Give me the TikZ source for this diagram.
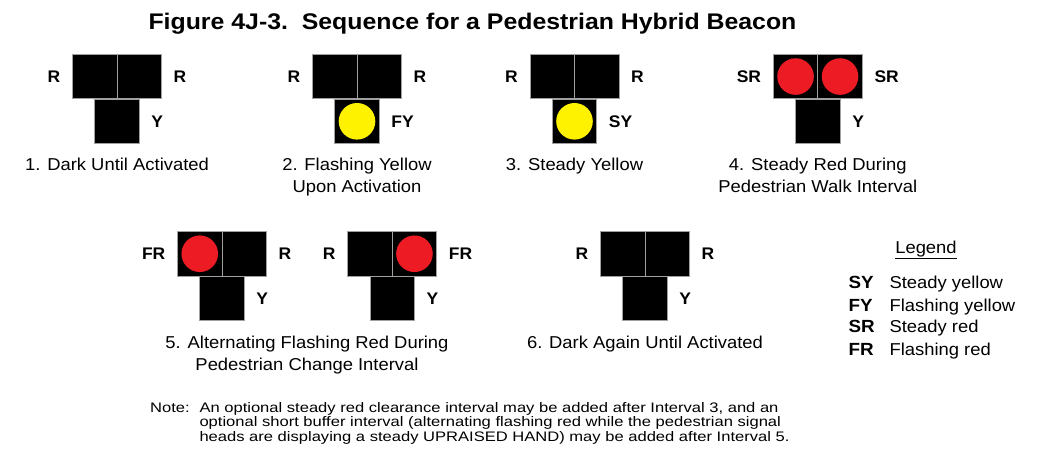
\documentclass[tikz,border=0pt]{standalone}
\usepackage{fontspec}
\setmainfont{Liberation Sans}
\newfontfamily\capfont[FakeStretch=1.07]{Liberation Sans}
\newfontfamily\titlefont[FakeStretch=1.1]{Liberation Sans}
\newfontfamily\notefont[FakeStretch=1.2]{Liberation Sans}
\newfontfamily\lblfont[FakeStretch=1.04]{Liberation Sans}
\definecolor{lampred}{RGB}{237,28,36}
\definecolor{lampyellow}{RGB}{255,242,0}
\definecolor{sqedge}{RGB}{160,160,160}
\tikzset{
  sq/.style={draw=sqedge, line width=0.7pt, fill=black, minimum size=44.5pt, inner sep=0pt, outer sep=0pt},
  lamp/.style={circle, minimum size=36.6pt, inner sep=0pt},
  redlamp/.style={lamp, fill=lampred},
  yellowlamp/.style={lamp, fill=lampyellow},
  lbl/.style={font=\lblfont\bfseries\fontsize{16.8}{20}\selectfont, inner sep=0pt},
  captext/.style={font=\capfont\fontsize{17.2}{21}\selectfont, inner sep=0pt, anchor=base},
  legabbr/.style={font=\capfont\bfseries\fontsize{17.6}{21}\selectfont, inner sep=0pt, anchor=base west},
  legtext/.style={font=\capfont\fontsize{17.2}{21}\selectfont, inner sep=0pt, anchor=base west},
  notetext/.style={font=\notefont\fontsize{13.8}{16}\selectfont, inner sep=0pt, anchor=base west},
  titletext/.style={font=\titlefont\bfseries\fontsize{22.6}{27}\selectfont, inner sep=0pt, anchor=base west},
}
% #1 centre x, #2 top y, #3 name prefix, #4 left label, #5 right label, #6 bottom label
\newcommand\Beacon[6]{%
  \node[sq] (#3L) at (#1-22.25, #2+22.25) {};
  \node[sq] (#3R) at (#1+22.25, #2+22.25) {};
  \node[sq] (#3Y) at (#1, #2+67) {};
  \node[lbl, anchor=east] (#3lt) at ([xshift=-12pt]#3L.west) {#4};
  \node[lbl, anchor=west] (#3rt) at ([xshift=12pt]#3R.east) {#5};
  \node[lbl, anchor=west] (#3yt) at ([xshift=12pt]#3Y.east) {#6};
}
\begin{document}
\begin{tikzpicture}[x=1pt, y=-1pt]
\useasboundingbox (0,0) rectangle (1037,460);
\fill[white] (0,0) rectangle (1037,460);

\node[titletext] (title) at (148.3, 29.3) {Figure 4J-3.\ \ Sequence for a Pedestrian Hybrid Beacon};

% row 1
\Beacon{117}{54.3}{a}{R}{R}{Y}
\Beacon{357}{54.3}{b}{R}{R}{FY}
\node[yellowlamp] (bLamp) at (bY.center) {};
\Beacon{574.5}{54.3}{c}{R}{R}{SY}
\node[yellowlamp] (cLamp) at (cY.center) {};
\Beacon{817.8}{54.3}{d}{SR}{SR}{Y}
\node[redlamp] (dLampL) at (dL.center) {};
\node[redlamp] (dLampR) at (dR.center) {};

\node[captext] (capa) at (117, 170.5) {1. Dark Until Activated};
\node[captext] (capb1) at (357, 170.5) {2. Flashing Yellow};
\node[captext] (capb2) at (357, 192.2) {Upon Activation};
\node[captext] (capc) at (574.5, 170.5) {3. Steady Yellow};
\node[captext] (capd1) at (817.8, 170.5) {4. Steady Red During};
\node[captext] (capd2) at (817.8, 192.2) {Pedestrian Walk Interval};

% row 2
\Beacon{222}{231.5}{e}{FR}{R}{Y}
\node[redlamp] (eLamp) at (eL.center) {};
\Beacon{392.2}{231.5}{f}{R}{FR}{Y}
\node[redlamp] (fLamp) at (fR.center) {};
\Beacon{645}{231.5}{g}{R}{R}{Y}

\node[captext] (cape1) at (307, 348.3) {5. Alternating Flashing Red During};
\node[captext] (cape2) at (307, 370) {Pedestrian Change Interval};
\node[captext] (capg) at (645, 348.3) {6. Dark Again Until Activated};

% legend
\node[captext] (leg) at (926, 253.3) {Legend};
\draw[line width=1.1pt] ([yshift=-5pt]leg.base west) -- ([yshift=-5pt]leg.base east);
\node[legabbr] (l1a) at (848.3, 288.3) {SY};
\node[legtext] (l1b) at (889.3, 288.3) {Steady yellow};
\node[legabbr] (l2a) at (848.3, 311) {FY};
\node[legtext] (l2b) at (889.3, 311) {Flashing yellow};
\node[legabbr] (l3a) at (848.3, 332.7) {SR};
\node[legtext] (l3b) at (889.3, 332.7) {Steady red};
\node[legabbr] (l4a) at (848.3, 355) {FR};
\node[legtext] (l4b) at (889.3, 355) {Flashing red};

% note
\node[notetext] (note0) at (150, 412) {Note:};
\node[notetext] (note1) at (199.3, 412) {An optional steady red clearance interval may be added after Interval 3, and an};
\node[notetext] (note2) at (199.3, 426.8) {optional short buffer interval (alternating flashing red while the pedestrian signal};
\node[notetext] (note3) at (199.3, 441.6) {heads are displaying a steady UPRAISED HAND) may be added after Interval 5.};
\end{tikzpicture}
\end{document}
